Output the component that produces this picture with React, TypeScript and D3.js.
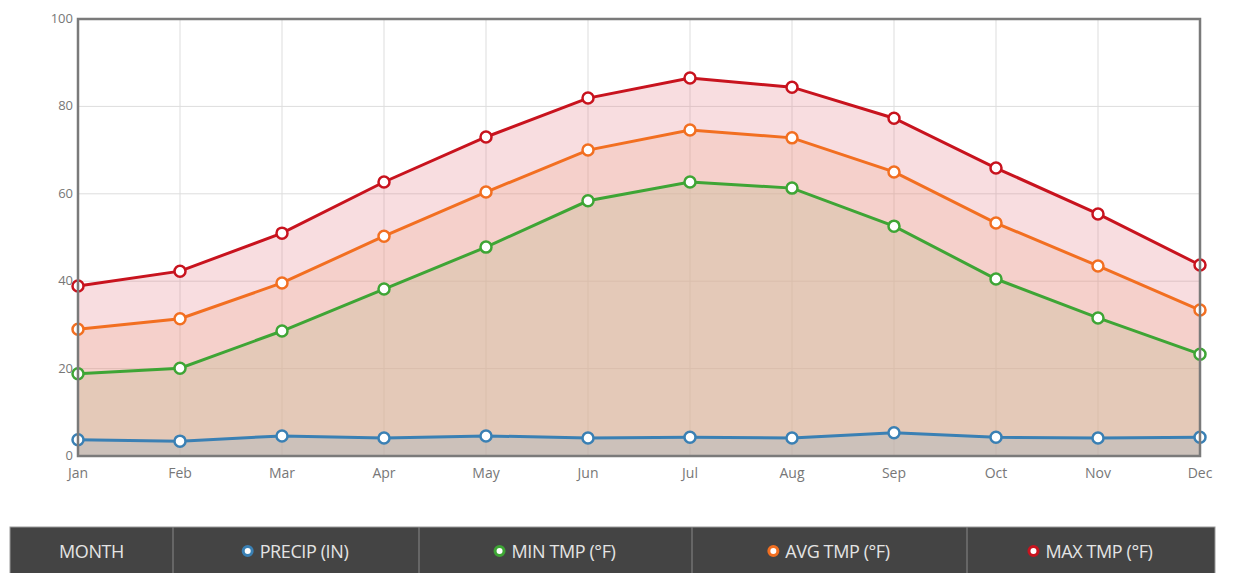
import * as d3 from 'd3';
import React, { useRef, useEffect } from 'react';

const months = ["Jan", "Feb", "Mar", "Apr", "May", "Jun", "Jul", "Aug", "Sep", "Oct", "Nov", "Dec"];
const precip = [3.7, 3.4, 4.6, 4.1, 4.6, 4.1, 4.3, 4.1, 5.3, 4.3, 4.1, 4.3];
const minTmp = [18.8, 20.1, 28.6, 38.2, 47.8, 58.4, 62.7, 61.3, 52.6, 40.5, 31.6, 23.3];
const avgTmp = [29, 31.4, 39.6, 50.3, 60.4, 70, 74.6, 72.8, 65, 53.3, 43.5, 33.4];
const maxTmp = [38.9, 42.3, 51, 62.7, 73, 81.9, 86.5, 84.4, 77.3, 65.9, 55.4, 43.7];
const yTicks = [0, 20, 40, 60, 80, 100];
const legendCols = ["MONTH", "PRECIP (IN)", "MIN TMP (°F)", "AVG TMP (°F)", "MAX TMP (°F)"];

const W = 1244, H = 573;

function App() {
    const ref = useRef<SVGSVGElement>(null);

    useEffect(() => {
        document.body.style.margin = "0";
        const svg = d3.select(ref.current);
        svg.selectAll("*").remove();

        const x = d3.scalePoint<string>().domain(months).range([78, 1200]);
        const y = d3.scaleLinear().domain([0, 100]).range([456, 19]);
        const font = "'Open Sans', sans-serif";

        // grid
        svg.append("g").selectAll("line").data(months).enter().append("line")
            .attr("x1", d => x(d)!).attr("x2", d => x(d)!)
            .attr("y1", y(100)).attr("y2", y(0))
            .attr("stroke", "#ddd").attr("stroke-width", 1);
        svg.append("g").selectAll("line").data(yTicks).enter().append("line")
            .attr("x1", 78).attr("x2", 1200)
            .attr("y1", d => y(d)).attr("y2", d => y(d))
            .attr("stroke", "#ddd").attr("stroke-width", 1);

        const series = [
            { vals: maxTmp, color: "#c8131e", fill: "rgba(226,120,130,0.25)" },
            { vals: avgTmp, color: "#f26f21", fill: "rgba(235,160,120,0.2)" },
            { vals: minTmp, color: "#3ea535", fill: "rgba(209,193,161,0.45)" },
            { vals: precip, color: "#3a80b4", fill: "rgba(160,179,190,0.35)" },
        ];

        series.forEach(s => {
            const area = d3.area<number>()
                .x((d, i) => x(months[i])!)
                .y0(y(0))
                .y1(d => y(d));
            svg.append("path").attr("d", area(s.vals)!).attr("fill", s.fill);
        });

        series.forEach(s => {
            const line = d3.line<number>()
                .x((d, i) => x(months[i])!)
                .y(d => y(d));
            svg.append("path").attr("d", line(s.vals)!)
                .attr("fill", "none").attr("stroke", s.color).attr("stroke-width", 3);
            svg.append("g").selectAll("circle").data(s.vals).enter().append("circle")
                .attr("cx", (d, i) => x(months[i])!)
                .attr("cy", d => y(d))
                .attr("r", 5.5)
                .attr("fill", "#fff")
                .attr("stroke", s.color).attr("stroke-width", 2.5);
        });

        // frame
        svg.append("rect")
            .attr("x", 78).attr("y", 19).attr("width", 1122).attr("height", 437)
            .attr("fill", "none").attr("stroke", "#7a7a7a").attr("stroke-width", 2.5);

        // axis labels
        svg.append("g").selectAll("text").data(yTicks).enter().append("text")
            .attr("x", 73).attr("y", d => y(d) + 4)
            .attr("text-anchor", "end").attr("font-family", font).attr("font-size", 13)
            .attr("fill", "#777").text(d => d);
        svg.append("g").selectAll("text").data(months).enter().append("text")
            .attr("x", d => x(d)!).attr("y", 478)
            .attr("text-anchor", "middle").attr("font-family", font).attr("font-size", 14)
            .attr("fill", "#777").text(d => d);

        // legend table
        const edges = [10, 173, 419, 692, 967, 1215];
        const lg = svg.append("g");
        lg.append("rect").attr("x", 10).attr("y", 527).attr("width", 1205).attr("height", 50)
            .attr("fill", "#444").attr("stroke", "#999").attr("stroke-width", 1);
        lg.selectAll("line").data(edges.slice(1, -1)).enter().append("line")
            .attr("x1", d => d).attr("x2", d => d).attr("y1", 527).attr("y2", 573)
            .attr("stroke", "#888").attr("stroke-width", 1);
        const dotColors = [null, "#3a80b4", "#3ea535", "#f26f21", "#c8131e"];
        legendCols.forEach((label, i) => {
            const cx = (edges[i] + edges[i + 1]) / 2;
            const dot = dotColors[i];
            const t = lg.append("text")
                .attr("y", 558).attr("font-family", font).attr("font-size", 18)
                .attr("letter-spacing", -0.4)
                .attr("fill", "#e4e4e4").text(label);
            if (dot) {
                const tw = (t.node() as SVGTextElement).getComputedTextLength();
                const startX = cx - (tw + 16) / 2;
                lg.append("circle").attr("cx", startX + 4).attr("cy", 551).attr("r", 4.5)
                    .attr("fill", "#fff").attr("stroke", dot).attr("stroke-width", 3);
                t.attr("x", startX + 16);
            } else {
                t.attr("x", cx).attr("text-anchor", "middle");
            }
        });
    }, []);

    return (
        <svg ref={ref} width={W} height={H} style={{ display: "block" }}></svg>
    );
}

export default App;
